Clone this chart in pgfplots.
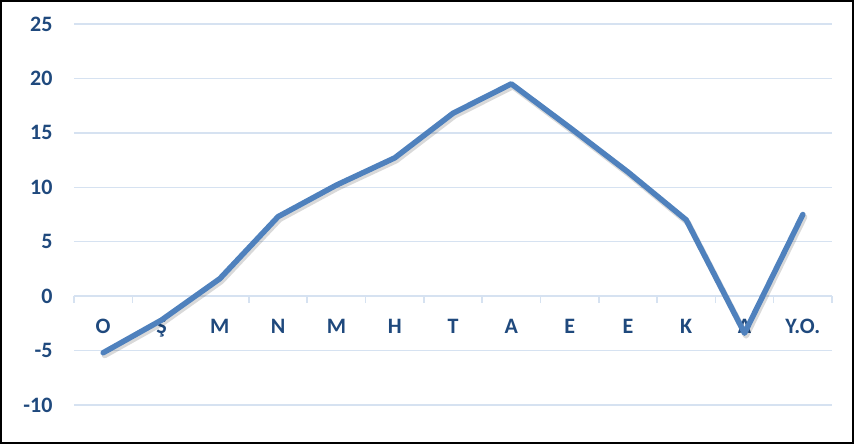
\documentclass[border=0pt]{standalone}
\usepackage{pgfplots}
\pgfplotsset{compat=1.18}
\usepackage{fontspec}
\setmainfont{Carlito}
\definecolor{linecol}{RGB}{79,129,189}
\definecolor{gridcol}{RGB}{214,226,241}
\definecolor{labcol}{RGB}{31,73,125}
\begin{document}
\begin{tikzpicture}[x=1pt,y=1pt]
\begin{axis}[
  at={(0pt,0pt)}, anchor=south west,
  scale only axis, width=758pt, height=381pt,
  xmin=-0.5, xmax=12.5, ymin=-10, ymax=25,
  axis x line=middle, axis y line=left,
  x axis line style={draw=gridcol, line width=1.5pt, -},
  y axis line style={draw=none},
  ytick={-10,-5,0,5,10,15,20,25},
  ymajorgrids, grid style={draw=gridcol, line width=1.5pt},
  xtick={0,...,12},
  xticklabels={O,Ş,M,N,M,H,T,A,E,E,K,A,Y.O.},
  major tick length=0pt,
  minor xtick={-0.5,0.5,...,12.5},
  minor x tick style={draw=gridcol, line width=1.5pt},
  minor tick length=7pt,
  tick align=outside,
  xticklabel style={anchor=base, yshift=-37pt, font=\fontsize{22}{26}\selectfont\bfseries, text=labcol},
  yticklabel style={xshift=-18pt, font=\fontsize{22}{26}\selectfont\bfseries, text=labcol},
  /pgf/number format/assume math mode=true,
  clip=false,
  axis on top=false,
]
\addplot[draw=black, opacity=0.15, line width=6pt, line join=round, line cap=round, shift={(1.5pt,-2.5pt)}] coordinates {
(0,-5.2) (1,-2.2) (2,1.6) (3,7.3) (4,10.2) (5,12.7) (6,16.8) (7,19.5) (8,15.5) (9,11.4) (10,7.0) (11,-3.4) (12,7.5)};
\addplot[draw=linecol, line width=5.5pt, line join=round, line cap=round] coordinates {
(0,-5.2) (1,-2.2) (2,1.6) (3,7.3) (4,10.2) (5,12.7) (6,16.8) (7,19.5) (8,15.5) (9,11.4) (10,7.0) (11,-3.4) (12,7.5)};
\end{axis}
\draw[black, line width=2pt] (-73pt,-38pt) rectangle (779pt,404pt);
\end{tikzpicture}
\end{document}
